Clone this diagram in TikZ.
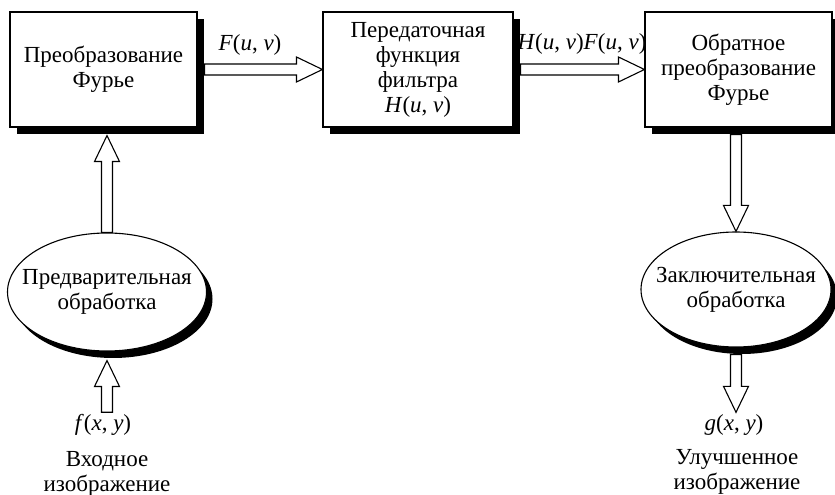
\documentclass[tikz,border=0pt]{standalone}
\usepackage{fontspec}
\setmainfont{Liberation Serif}
\usetikzlibrary{shapes.geometric,shadows,calc}
\begin{document}
\begin{tikzpicture}[x=1pt,y=1pt,font=\fontsize{23}{25}\selectfont,
  blk/.style={draw,line width=1.1pt,fill=white,align=center,minimum width=187pt,minimum height=115pt,
    drop shadow={shadow xshift=7pt,shadow yshift=-7pt,opacity=1,fill=black}},
  oval/.style={ellipse,draw,line width=1.1pt,fill=white,align=center,inner xsep=-22pt,inner ysep=8pt,
    drop shadow={shadow xshift=6pt,shadow yshift=-7pt,opacity=1,fill=black}},
  lbl/.style={inner sep=2pt,align=center},
  fat/.style={draw,fill=white,line width=1.1pt,line join=miter,
    to path={let \p1=(\tikztostart), \p2=(\tikztotarget),
      \n1={atan2(\y2-\y1,\x2-\x1)}, \n2={veclen(\x2-\x1,\y2-\y1)-26} in
      ($(\p1)+({\n1+90}:5.5)$) -- ++(\n1:\n2) -- ++({\n1+90}:7) -- (\p2)
      -- ($(\p2)+({\n1+180}:26)+({\n1-90}:12.5)$) -- ++({\n1+90}:7)
      -- ($(\p1)+({\n1-90}:5.5)$) -- cycle}}]
\useasboundingbox (0,0) rectangle (835,495);
\node[blk] (fourier) at (103.5,425.5) {Преобразование\\Фурье};
\node[blk,minimum width=190pt] (filter) at (418,425.5) {Передаточная\\функция\\фильтра\\\textit{H}(\textit{u}, \textit{v})};
\node[blk] (inv) at (738.5,425.5) {Обратное\\преобразование\\Фурье};
\node[oval,minimum width=199pt,minimum height=118pt] (pre) at (107,203) {Предварительная\\обработка};
\node[oval,minimum width=190pt,minimum height=115pt] (post) at (736,205.5) {Заключительная\\обработка};
\node[lbl] (fin) at (103,70) {\textit{f}(\textit{x}, \textit{y})};
\node[lbl] (incap) at (107,21.5) {Входное\\изображение};
\node[lbl] (gout) at (734,70) {\textit{g}(\textit{x}, \textit{y})};
\node[lbl] (outcap) at (737,23.5) {Улучшенное\\изображение};
\node[lbl] (Fuv) at (250,450) {\textit{F}(\textit{u}, \textit{v})};
\node[lbl] (HF) at (582,451) {\textit{H}(\textit{u}, \textit{v})\textit{F}(\textit{u}, \textit{v})};
\draw[fat] ([xshift=7pt]fourier.east) to (filter.west);
\draw[fat] ([xshift=7pt]filter.east) to (inv.west);
\draw[fat] (pre.north) to ([yshift=-8pt]pre.north |- fourier.south);
\draw[fat] ([yshift=-7pt]post.north |- inv.south) to (post.north);
\draw[fat] (pre.south |- fin.north) to ([yshift=-9pt]pre.south);
\draw[fat] ([yshift=-7pt]post.south) to (post.south |- gout.north);
\end{tikzpicture}
\end{document}
